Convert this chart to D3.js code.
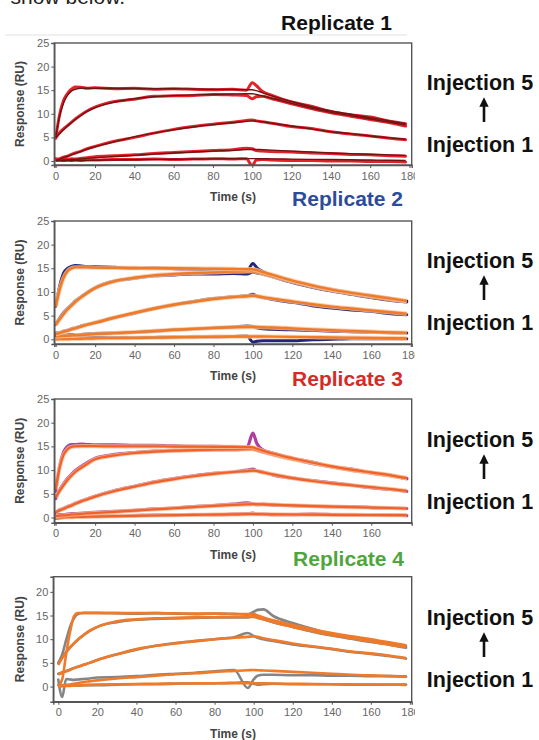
<!DOCTYPE html>
<html><head><meta charset="utf-8">
<script src="https://cdn.jsdelivr.net/npm/d3@7"></script>
<style>body{margin:0;background:#fff}svg{display:block;font-family:"Liberation Sans",Arial,sans-serif}</style>
</head><body><svg id="c" width="539" height="740"></svg>
<script>
// ---------------- DATA ----------------
const time = [0,2,4,6,8,10,13,16,20,30,40,50,60,70,80,90,97,100,102,105,110,120,130,140,150,160,170,178];
const replicateTitles = ["Replicate 1","Replicate 2","Replicate 3","Replicate 4"];
const injectionLabels = ["Injection 5","Injection 1"];
const yTicksFull = [0,5,10,15,20,25];
const yTicksShort = [0,5,10,15,20];
const xTicksFull = [0,20,40,60,80,100,120,140,160,180];
const xTicksShort = [0,20,40,60,80,100,120,140,160];

// Replicate 1 (inj1..inj5)
const rep1Data = [
 [0.3,0.2,0.1,0.2,0.1,0.2,0.1,0.2,0.2,0.3,0.3,0.4,0.3,0.4,0.5,0.4,0.5,-1.0,0.2,0.3,0.2,0.1,0.1,0.0,0.0,-0.1,-0.1,-0.2],
 [0.5,0.3,0.4,0.3,0.5,0.4,0.6,0.7,0.9,1.1,1.3,1.6,1.8,2.0,2.2,2.4,2.7,2.6,2.2,2.1,2.0,1.9,1.7,1.6,1.4,1.3,1.1,1.0],
 [0.3,0.5,0.8,1.0,1.4,1.7,2.1,2.6,3.1,4.2,5.0,5.9,6.7,7.3,7.8,8.2,8.6,8.7,8.5,8.3,8.0,7.3,6.9,6.2,5.7,5.3,4.8,4.5],
 [4.9,6.0,6.8,7.5,8.2,8.9,9.8,10.6,11.4,12.6,13.1,13.7,13.8,13.9,14.1,14.0,13.9,13.2,13.6,13.7,13.2,12.1,11.1,10.2,9.5,8.8,8.1,7.4],
 [4.8,9.8,12.8,14.3,15.2,15.7,15.6,15.4,15.5,15.3,15.4,15.2,15.3,15.2,15.1,15.2,15.0,16.6,16.0,14.8,13.9,12.5,11.6,10.5,9.8,9.3,8.4,7.9]
];
const rep1Fit = [
 [0.0,0.02,0.04,0.06,0.08,0.1,0.12,0.14,0.17,0.22,0.27,0.32,0.37,0.41,0.45,0.48,0.5,0.5,0.5,0.48,0.45,0.4,0.35,0.3,0.25,0.2,0.15,0.1],
 [0.1,0.15,0.2,0.25,0.3,0.35,0.45,0.55,0.7,0.95,1.2,1.45,1.7,1.9,2.1,2.25,2.4,2.45,2.45,2.4,2.3,2.1,1.9,1.7,1.55,1.4,1.3,1.2],
 [0.1,0.4,0.7,1.0,1.3,1.6,2.05,2.5,3.0,4.1,5.1,5.9,6.6,7.2,7.7,8.1,8.4,8.5,8.45,8.3,8.0,7.4,6.8,6.2,5.8,5.3,4.9,4.6],
 [5.0,5.8,6.6,7.4,8.1,8.8,9.7,10.5,11.3,12.5,13.2,13.6,13.85,14.0,14.1,14.2,14.25,14.25,14.1,13.8,13.3,12.2,11.2,10.3,9.6,8.9,8.2,7.6],
 [5.0,9.5,12.3,13.9,14.8,15.2,15.4,15.4,15.4,15.4,15.35,15.3,15.3,15.25,15.2,15.15,15.1,15.1,14.9,14.5,13.8,12.6,11.5,10.6,9.9,9.2,8.5,7.9]
];
// Replicate 2
const rep2Data = [
 [1.0,0.8,0.9,0.7,0.9,0.8,0.6,0.5,0.4,0.4,0.3,0.4,0.5,0.5,0.5,0.6,0.7,-0.6,-0.4,-0.3,-0.3,-0.3,-0.1,0.0,0.1,0.1,0.1,0.1],
 [0.8,0.9,0.8,0.9,1.0,0.9,1.0,1.1,1.2,1.3,1.5,1.7,2.0,2.2,2.4,2.6,2.8,2.7,2.4,2.2,2.1,2.0,1.9,1.7,1.6,1.5,1.4,1.3],
 [1.3,1.4,1.7,1.9,2.2,2.4,2.8,3.1,3.5,4.6,5.5,6.5,7.3,8.0,8.6,9.0,9.2,9.5,9.1,8.8,8.4,7.8,7.1,6.6,6.2,5.9,5.4,5.2],
 [3.2,4.5,5.6,6.5,7.3,8.1,9.0,9.9,10.9,12.3,12.9,13.4,13.6,13.8,13.8,13.9,13.8,14.2,14.0,13.8,13.2,12.0,11.0,10.2,9.5,8.8,8.2,7.9],
 [7.0,11.2,14.0,15.0,15.4,15.6,15.5,15.4,15.4,15.2,15.0,15.1,14.9,14.8,14.7,14.6,14.5,16.0,15.1,14.3,13.5,12.3,11.3,10.5,9.8,9.2,8.6,8.1]
];
const rep2Fit = [
 [0.0,0.02,0.04,0.06,0.08,0.1,0.12,0.15,0.18,0.25,0.3,0.35,0.42,0.47,0.52,0.56,0.6,0.6,0.6,0.58,0.55,0.5,0.45,0.4,0.33,0.27,0.2,0.15],
 [0.6,0.65,0.7,0.75,0.8,0.85,0.9,1.0,1.1,1.3,1.5,1.75,2.0,2.2,2.4,2.55,2.6,2.6,2.6,2.55,2.5,2.3,2.1,1.9,1.75,1.6,1.45,1.35],
 [1.1,1.3,1.6,1.8,2.1,2.3,2.7,3.1,3.5,4.6,5.6,6.5,7.3,7.9,8.5,8.9,9.1,9.2,9.1,8.9,8.6,8.0,7.4,6.9,6.5,6.1,5.7,5.4],
 [3.0,4.2,5.3,6.3,7.1,7.9,8.9,9.8,10.8,12.3,13.0,13.5,13.8,14.0,14.15,14.3,14.35,14.4,14.2,13.9,13.3,12.2,11.2,10.4,9.7,9.0,8.4,8.0],
 [6.9,10.5,13.0,14.4,15.0,15.2,15.2,15.2,15.15,15.1,15.05,15.0,15.0,14.95,14.9,14.85,14.8,14.8,14.6,14.2,13.6,12.4,11.4,10.5,9.8,9.2,8.6,8.1]
];
// Replicate 3
const rep3Data = [
 [-0.2,-0.1,0.0,0.1,0.1,0.2,0.2,0.2,0.3,0.3,0.4,0.5,0.5,0.6,0.6,0.7,0.8,0.9,0.7,0.7,0.6,0.6,0.7,0.6,0.5,0.5,0.5,0.4],
 [0.5,0.6,0.6,0.7,0.8,0.8,0.9,1.0,1.1,1.3,1.5,1.8,2.0,2.3,2.5,2.8,3.1,2.9,2.7,2.8,2.6,2.5,2.4,2.3,2.3,2.1,2.0,1.9],
 [1.0,1.6,1.9,2.3,2.6,3.0,3.5,3.9,4.5,5.7,6.6,7.5,8.2,8.8,9.3,9.6,10.0,10.2,9.8,9.6,9.0,8.3,7.8,7.3,6.8,6.3,5.9,5.5],
 [4.0,5.8,7.1,8.2,9.1,9.9,10.8,11.6,12.5,13.3,13.7,14.0,14.1,14.2,14.3,14.3,14.5,14.6,14.3,13.8,13.3,12.4,11.4,10.7,10.0,9.4,8.8,8.2],
 [5.5,10.8,13.8,15.0,15.4,15.4,15.5,15.4,15.3,15.3,15.2,15.2,15.1,15.0,15.0,14.9,14.8,17.8,15.6,14.3,13.6,12.5,11.7,10.7,10.2,9.4,8.9,8.2]
];
const rep3Fit = [
 [0.0,0.02,0.04,0.06,0.08,0.1,0.13,0.16,0.2,0.28,0.35,0.42,0.5,0.55,0.6,0.65,0.7,0.7,0.7,0.68,0.66,0.63,0.6,0.57,0.55,0.52,0.5,0.48],
 [0.3,0.4,0.45,0.5,0.6,0.65,0.75,0.85,0.95,1.2,1.45,1.7,1.95,2.2,2.45,2.65,2.75,2.8,2.8,2.75,2.7,2.55,2.4,2.3,2.2,2.1,2.0,1.9],
 [1.1,1.5,1.8,2.2,2.5,2.9,3.4,3.8,4.4,5.6,6.5,7.4,8.1,8.7,9.2,9.6,9.8,9.9,9.8,9.5,9.1,8.3,7.7,7.2,6.8,6.4,6.0,5.6],
 [4.2,5.6,6.8,7.9,8.8,9.6,10.5,11.3,12.3,13.1,13.6,13.9,14.1,14.2,14.3,14.35,14.4,14.4,14.2,13.9,13.3,12.3,11.5,10.7,10.0,9.4,8.8,8.3],
 [6.0,10.5,13.2,14.4,14.9,15.0,15.05,15.05,15.05,15.0,15.0,15.0,14.95,14.95,14.9,14.9,14.85,14.8,14.5,14.1,13.5,12.5,11.6,10.8,10.1,9.5,8.9,8.3]
];
// Replicate 4
const rep4Data = [
 [0.3,0.2,0.3,0.2,0.3,0.2,0.3,0.3,0.3,0.4,0.5,0.5,0.6,0.7,0.7,0.8,0.9,0.6,0.4,0.5,0.6,0.5,0.5,0.5,0.4,0.4,0.4,0.4],
 [1.5,-2.2,1.6,1.5,1.4,1.5,1.6,1.7,1.9,2.0,2.2,2.5,2.7,2.9,3.2,3.5,-0.3,1.5,2.3,2.5,2.5,2.4,2.4,2.3,2.3,2.2,2.2,2.1],
 [2.7,3.0,3.3,3.6,3.9,4.2,4.6,5.0,5.6,6.8,7.8,8.6,9.2,9.6,10.0,10.4,11.3,10.7,10.3,10.0,9.6,8.9,8.4,7.9,7.3,6.9,6.4,5.9],
 [4.9,6.2,7.3,8.3,9.1,9.9,10.9,11.7,12.6,13.6,14.1,14.3,14.4,14.5,14.6,14.6,14.6,14.9,14.6,14.2,13.6,12.6,11.6,10.8,10.1,9.4,8.8,8.2],
 [5.0,6.8,9.8,12.6,14.4,15.3,15.6,15.6,15.6,15.5,15.4,15.5,15.4,15.3,15.4,15.3,15.2,15.8,16.2,16.3,14.9,13.4,12.2,11.0,10.5,9.8,9.1,8.6]
];
const rep4Fit = [
 [0.0,0.05,0.1,0.15,0.2,0.25,0.3,0.35,0.4,0.5,0.55,0.6,0.63,0.66,0.68,0.7,0.7,0.7,0.68,0.66,0.63,0.58,0.53,0.48,0.45,0.42,0.38,0.35],
 [0.0,0.15,0.3,0.45,0.6,0.75,0.95,1.1,1.3,1.7,2.0,2.3,2.6,2.8,3.1,3.3,3.45,3.5,3.45,3.4,3.3,3.1,2.9,2.7,2.5,2.35,2.2,2.1],
 [2.5,2.9,3.2,3.5,3.9,4.2,4.6,5.0,5.6,6.8,7.9,8.6,9.1,9.6,10.0,10.3,10.5,10.6,10.5,10.2,9.8,9.1,8.5,8.0,7.4,7.0,6.5,6.0],
 [4.6,6.0,7.2,8.2,9.1,9.9,10.9,11.8,12.6,13.8,14.2,14.4,14.5,14.6,14.65,14.7,14.7,14.7,14.5,14.2,13.6,12.6,11.7,10.9,10.2,9.5,8.8,8.3],
 [0.0,1.5,6.8,11.5,14.8,15.5,15.5,15.5,15.5,15.5,15.5,15.5,15.45,15.4,15.4,15.35,15.3,15.3,15.0,14.6,14.0,13.0,12.1,11.3,10.6,10.0,9.3,8.7]
];

// ---------------- LAYOUT / STYLE ----------------
const panels = [
 {data:rep1Data, fit:rep1Fit, top:43, bottom:165, yDom:[-0.85,25], xDom:[-0.7,181.1], left:54.3, yT:yTicksFull, xT:xTicksFull,
  title:replicateTitles[0], titleColor:"#111", titleX:392, titleY:30, lab:0,
  dataColor:"#e3222a", dataW:3, fitColor:"#6e1414", fitW:1.4, halo:null},
 {data:rep2Data, fit:rep2Fit, top:221, bottom:344, yDom:[-1,25], xDom:[-0.7,180.5], left:54.3, yT:yTicksFull, xT:xTicksFull,
  title:replicateTitles[1], titleColor:"#2d4b9b", titleX:403, titleY:206, lab:178,
  dataColor:"#24247a", dataW:3, fitColor:"#f07a26", fitW:2.4, halo:"#f8c39a"},
 {data:rep3Data, fit:rep3Fit, top:399, bottom:522.7, yDom:[-1.1,25], xDom:[-0.7,180.5], left:54.3, yT:yTicksFull, xT:xTicksShort,
  title:replicateTitles[2], titleColor:"#d52a26", titleX:403, titleY:386, lab:357,
  dataColor:"#ad3fa0", dataW:3.2, fitColor:"#f0622c", fitW:2.2, halo:"#f9b98a"},
 {data:rep4Data, fit:rep4Fit, top:576.7, bottom:701.7, yDom:[-3.2,23.2], xDom:[-2.56,180.9], left:53.3, yT:yTicksShort, xT:xTicksFull,
  title:replicateTitles[3], titleColor:"#4ea63c", titleX:404, titleY:566, lab:535,
  dataColor:"#858585", dataW:2.6, fitColor:"#ee7a2a", fitW:2.6, halo:null}
];
const right = 411.7;

const svg = d3.select("#c");
const defs = svg.append("defs");
defs.append("clipPath").attr("id","clipAll").append("rect").attr("x",0).attr("y",0).attr("width",415).attr("height",740);
defs.append("marker").attr("id","arrow").attr("viewBox","0 0 10 10").attr("refX",5).attr("refY",5)
  .attr("markerWidth",3.6).attr("markerHeight",3.6).attr("orient","auto")
  .append("path").attr("d","M0,0 L10,5 L0,10 Z").attr("fill","#111");

// partial text at top of page
svg.append("text").attr("x",125).attr("y",4).attr("text-anchor","end").attr("font-size",21).attr("fill","#222").text("show below.");
svg.append("line").attr("x1",5).attr("x2",407).attr("y1",35).attr("y2",35).attr("stroke","#e2e2e2").attr("stroke-width",1.2);

panels.forEach((p,pi)=>{
  const x = d3.scaleLinear().domain(p.xDom).range([p.left,right]);
  const y = d3.scaleLinear().domain(p.yDom).range([p.bottom,p.top]);
  const g = svg.append("g").attr("clip-path","url(#clipAll)");
  const cid = "plot"+pi;
  defs.append("clipPath").attr("id",cid).append("rect").attr("x",p.left).attr("y",p.top).attr("width",right-p.left).attr("height",p.bottom-p.top);

  const line = d3.line().x((d,i)=>x(time[i])).y(d=>y(d)).curve(d3.curveMonotoneX);
  const plot = g.append("g").attr("clip-path",`url(#${cid})`);
  // data
  p.data.forEach(s=>{
    plot.append("path").attr("d",line(s)).attr("fill","none").attr("stroke",p.dataColor)
      .attr("stroke-width",p.dataW).attr("stroke-linejoin","round").attr("stroke-linecap","round");
  });
  // fits
  p.fit.forEach(s=>{
    if(p.halo) plot.append("path").attr("d",line(s)).attr("fill","none").attr("stroke",p.halo).attr("stroke-width",p.fitW+2).attr("opacity",0.8);
    plot.append("path").attr("d",line(s)).attr("fill","none").attr("stroke",p.fitColor)
      .attr("stroke-width",p.fitW).attr("stroke-linejoin","round");
  });

  // frame
  g.append("rect").attr("x",p.left).attr("y",p.top).attr("width",right-p.left).attr("height",p.bottom-p.top)
    .attr("fill","none").attr("stroke","#555").attr("stroke-width",1.4);

  const ya = g.append("g").attr("transform",`translate(${p.left},0)`)
    .call(d3.axisLeft(y).tickValues(p.yT).tickSize(3).tickPadding(2).tickFormat(d3.format("d")));
  const xa = g.append("g").attr("transform",`translate(0,${p.bottom})`)
    .call(d3.axisBottom(x).tickValues(p.xT).tickSize(3).tickPadding(4).tickFormat(d3.format("d")));
  [ya,xa].forEach(a=>{
    a.select(".domain").attr("stroke","#555").attr("stroke-width",1.4);
    a.selectAll(".tick line").attr("stroke","#555");
    a.selectAll("text").attr("fill","#666").attr("font-size",11).attr("font-family","'Liberation Sans',Arial,sans-serif");
  });

  // axis titles
  g.append("text").attr("transform",`translate(23.5,${(p.top+p.bottom)/2}) rotate(-90)`).attr("text-anchor","middle")
    .attr("font-size",12).attr("font-weight","bold").attr("fill","#444").text("Response (RU)");
  g.append("text").attr("x",233).attr("y",p.bottom+36).attr("text-anchor","middle")
    .attr("font-size",12).attr("font-weight","bold").attr("fill","#444").text("Time (s)");

  // replicate title
  svg.append("text").attr("x",p.titleX).attr("y",p.titleY).attr("text-anchor","end").attr("font-size",21)
    .attr("font-weight","bold").attr("fill",p.titleColor).text(p.title);

  // injection labels & arrow
  const o = p.lab;
  svg.append("text").attr("x",480).attr("y",90+o).attr("text-anchor","middle").attr("font-size",21.5)
    .attr("font-weight","bold").attr("fill","#111").text(injectionLabels[0]);
  svg.append("text").attr("x",480).attr("y",152+o).attr("text-anchor","middle").attr("font-size",21.5)
    .attr("font-weight","bold").attr("fill","#111").text(injectionLabels[1]);
  svg.append("line").attr("x1",484).attr("x2",484).attr("y1",122+o).attr("y2",102+o)
    .attr("stroke","#111").attr("stroke-width",2.6).attr("marker-end","url(#arrow)");
});
</script></body></html>
